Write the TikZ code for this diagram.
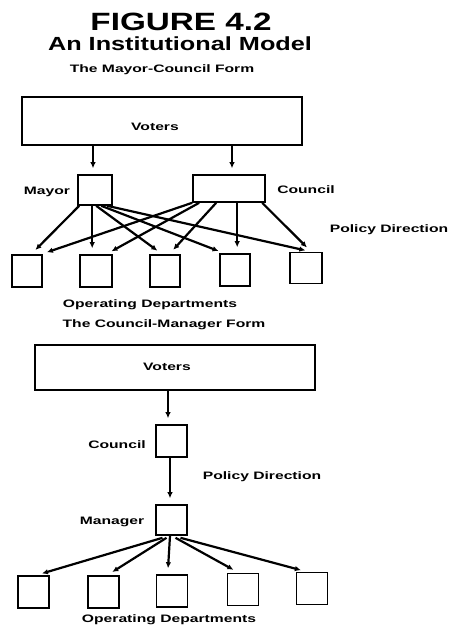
\documentclass[tikz,border=0pt]{standalone}
\usepackage{fontspec}
\setmainfont{Liberation Sans}
\newfontfamily\titlefont[FakeStretch=1.33]{Liberation Sans Bold}
\newfontfamily\labfont[FakeStretch=1.45]{Liberation Sans Bold}
\usetikzlibrary{arrows.meta,calc}
\begin{document}
\begin{tikzpicture}[x=1pt,y=-1pt,
  box/.style={draw,line width=1.6pt,inner sep=0pt},
  lab/.style={inner sep=0pt,font=\labfont\fontsize{10.8}{12}\selectfont},
  arr/.style={line width=2.2pt,-{Latex[length=6pt,width=5.5pt]},shorten >=6pt}]
\useasboundingbox (0,0) rectangle (450,630);

% headings
\node[inner sep=0pt,font=\titlefont\fontsize{25}{28}\selectfont] (title) at (181,22) {FIGURE 4.2};
\node[inner sep=0pt,font=\titlefont\fontsize{19}{22}\selectfont] (subtitle) at (180,44) {An Institutional Model};

% ---------------- Mayor-Council form ----------------
\node[lab] (formA) at (162,70) {The Mayor-Council Form};
\node[box,minimum width=280pt,minimum height=48pt] (votersA) at (162,121) {};
\node[lab] (votersAtxt) at (155,127) {Voters};
\node[box,minimum width=34pt,minimum height=30pt] (mayor) at (95,190) {};
\node[box,minimum width=72pt,minimum height=27pt] (councilA) at (229,188.5) {};
\node[lab] (mayorlab) at (47,192) {Mayor};
\node[lab] (councilAlab) at (306,190) {Council};
\node[lab] (policyA) at (389,230) {Policy Direction};

\foreach \i/\x/\y/\w/\h in {1/27/271/30/32, 2/96/271/32/32, 3/165/271/30/32, 4/235/270/30/32, 5/306/268/32/31}
  \node[box,minimum width=\w pt,minimum height=\h pt] (a\i) at (\x,\y) {};
\node[lab] (opsA) at (150,305) {Operating Departments};

\draw[arr] (votersA.south -| mayor.north) ++(-2,0) coordinate (vm) -- (vm |- mayor.north);
\draw[arr] (votersA.south -| councilA.north) ++(3,0) coordinate (vc) -- (vc |- councilA.north);

% Mayor to each department
\draw[arr] ($(mayor.south west)+(2,0)$)  -- ($(a1.north west)+(20,0)$);
\draw[arr] ($(mayor.south west)+(15,0)$) -- ($(a2.north west)+(13,0)$);
\draw[arr] ($(mayor.south west)+(19,0)$) -- ($(a3.north west)+(13,0)$);
\draw[arr] ($(mayor.south west)+(24,0)$) -- ($(a4.north west)+(5,0)$);
\draw[arr] ($(mayor.south west)+(30,0)$) -- ($(a5.north west)+(22,0)$);
% Council to each department
\draw[arr] ($(councilA.south west)+(0,0)$)  -- ($(a1.north west)+(30,0)$);
\draw[arr] ($(councilA.south west)+(7,0)$)  -- ($(a2.north west)+(27,0)$);
\draw[arr] ($(councilA.south west)+(24,0)$) -- ($(a3.north west)+(20,0)$);
\draw[arr] ($(councilA.south west)+(45,0)$) -- ($(a4.north west)+(18,0)$);
\draw[arr] ($(councilA.south west)+(70,0)$) -- ($(a5.north west)+(22,0)$);

% ---------------- Council-Manager form ----------------
\node[lab] (formB) at (164,325) {The Council-Manager Form};
\node[box,minimum width=280pt,minimum height=45pt] (votersB) at (175,367.5) {};
\node[lab] (votersBtxt) at (167,367) {Voters};
\node[box,minimum width=31pt,minimum height=32pt] (councilB) at (171.5,441) {};
\node[lab] (councilBlab) at (117,445) {Council};
\node[lab] (policyB) at (262,477) {Policy Direction};
\node[box,minimum width=31pt,minimum height=30pt] (manager) at (171.5,520) {};
\node[lab] (managerlab) at (112,522) {Manager};

\foreach \i/\x/\y in {1/33.5/592, 2/103.5/592, 3/172/591, 4/243/589.5, 5/312/588.5}
  \node[box,minimum width=31pt,minimum height=32pt] (b\i) at (\x,\y) {};
\node[lab] (opsB) at (169,620) {Operating Departments};

\draw[arr] ($(votersB.south)+(-7,0)$) coordinate (vb) -- (vb |- councilB.north);
\draw[arr] ($(councilB.south)+(-1.5,0)$) coordinate (cb) -- (cb |- manager.north);

\draw[arr] ($(manager.south)+(-9,2)$) -- ($(b1.north west)+(19,0)$);
\draw[arr] ($(manager.south)+(-5,2)$) -- ($(b2.north west)+(20,0)$);
\draw[arr] ($(manager.south)+(-1.5,0)$) -- ($(b3.north west)+(12,0)$);
\draw[arr] ($(manager.south)+(4,2)$)  -- ($(b4.north west)+(12,0)$);
\draw[arr] ($(manager.south)+(9,2)$)  -- ($(b5.north west)+(11,0)$);
\end{tikzpicture}
\end{document}
